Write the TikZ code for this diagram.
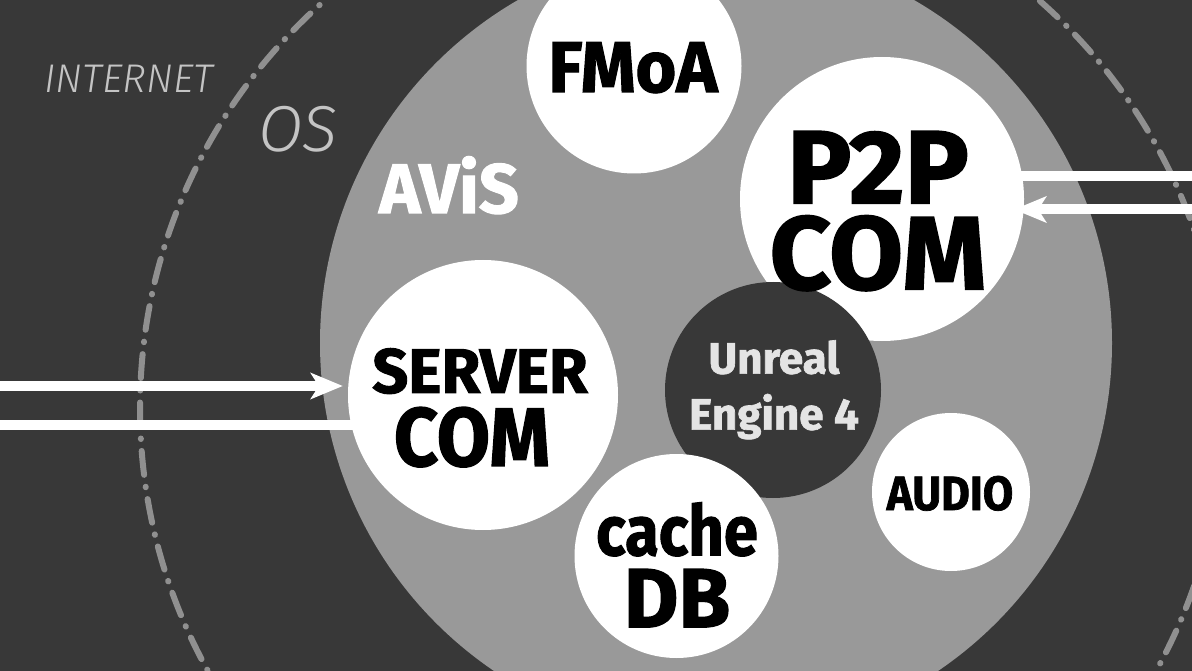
\documentclass[tikz,border=0pt]{standalone}
\usepackage{fontspec}
\usetikzlibrary{arrows.meta}
\newfontfamily\heavy{Fira Sans}[BoldFeatures={FakeBold=1.5}]
\newfontfamily\lightit{Fira Sans Light}
\newcommand\hv[2]{\fontsize{#1}{#2}\heavy\bfseries\selectfont}
\newcommand\lt[1]{\fontsize{#1}{#1}\lightit\itshape\selectfont}
\definecolor{bgdark}{HTML}{383838}
\definecolor{midgrey}{HTML}{999999}
\definecolor{dashgrey}{HTML}{909090}
\definecolor{labelgrey}{HTML}{C4C4C4}
\definecolor{uetext}{HTML}{E4E4E4}
\pgfdeclarelayer{back}
\pgfdeclarelayer{wires}
\pgfsetlayers{back,wires,main}
\tikzset{
  bubble/.style={circle, fill=white, draw=none, inner sep=0pt, minimum size=#1},
  darkbubble/.style={circle, fill=bgdark, draw=none, inner sep=0pt, minimum size=#1},
  txt/.style={anchor=base, inner sep=0pt, text=black},
  multitxt/.style={anchor=north, inner sep=0pt, text=black, align=center},
  wire/.style={draw=white, line width=10pt},
  tip/.style={-{Stealth[length=32pt, width=26pt, inset=8pt]}},
}
\begin{document}
\begin{tikzpicture}[x=1pt,y=-1pt]
\useasboundingbox (0,0) rectangle (1192,671);
\begin{pgfonlayer}{back}
  \fill[bgdark] (0,0) rectangle (1192,671);
  \draw[dashgrey, line width=6pt, line cap=round,
        dash pattern=on 24pt off 12pt on 0.5pt off 12pt] (682,408) circle[radius=542pt];
  \fill[midgrey] (716,343) circle[radius=396pt];
\end{pgfonlayer}

% labels on background
\node[txt, text=labelgrey] (internet) at (129,93) {\lt{40}INTERNET};
\node[txt, text=labelgrey] (os) at (298,152) {\lt{65}OS};
\node[txt, text=white] (avis) at (449,213) {\hv{70}{70}AViS};

% bubbles
\node[bubble=215pt] (fmoa) at (634,66) {};
\node[bubble=284pt] (p2p) at (882,199) {};
\node[bubble=270pt] (server) at (483,395) {};
\node[darkbubble=216pt] (ue) at (773,390) {};
\node[bubble=204pt] (cache) at (676.5,556) {};
\node[bubble=158pt] (audio) at (951,492) {};

% bubble texts
\node[txt] (fmoaT) at (633,92) {\hv{72}{72}\scalebox{0.97}[1]{FMoA}};
\node[multitxt, font=\hv{104}{86}] (p2pT) at (878,131) {\scalebox{1.03}[1]{P2P}\\\scalebox{1.03}[1]{COM}};
\node[multitxt, font=\hv{83}{73}] (serverT) at (480,348)
  {{\fontsize{63}{73}\selectfont SERVER}\\\hspace*{-16pt}\scalebox{0.93}[1]{COM}};
\node[multitxt, text=uetext, font=\hv{44}{56}] (ueT) at (774,340) {Unreal\\Engine 4};
\node[multitxt, font=\hv{84}{72}] (cacheT) at (677,502)
  {{\fontsize{70}{72}\selectfont\scalebox{0.88}[1]{cache}}\\DB};
\node[txt] (audioT) at (950,510) {\hv{48}{48}\scalebox{0.92}[1]{AUDIO}};

% connectors
\coordinate (inL1) at (0,386);
\coordinate (inL2) at (0,424.5);
\coordinate (inR1) at (1192,176.5);
\coordinate (inR2) at (1192,209.5);
\begin{pgfonlayer}{wires}
  \draw[wire, tip, shorten >=5pt] (inL1) -- (inL1 -| server.west);
  \draw[wire] (inL2) -- (inL2 -| server.center);
  \draw[wire] (inR1) -- (inR1 -| p2p.center);
  \draw[wire, tip, shorten >=-10pt] (inR2) -- (inR2 -| p2p.east);
\end{pgfonlayer}
\end{tikzpicture}
\end{document}
